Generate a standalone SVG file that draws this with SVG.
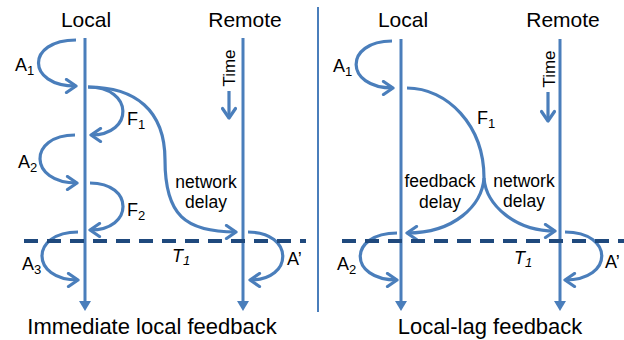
<svg xmlns="http://www.w3.org/2000/svg" width="624" height="340" viewBox="0 0 624 340">
<style>
text{font-family:"Liberation Sans",Arial,sans-serif;fill:#000}
.hd{font-size:21px;text-anchor:middle}
.cap{font-size:22px;text-anchor:middle}
.lb{font-size:18px}
.sub{font-size:13px}
.dl{font-size:17.5px;text-anchor:middle}
.tl{fill:none;stroke:#4A7EBB;stroke-width:3;marker-end:url(#tri)}
.cv{fill:none;stroke:#4A7EBB;stroke-width:3.2;marker-end:url(#open)}
.cvn{fill:none;stroke:#4A7EBB;stroke-width:3.2}
.dash{fill:none;stroke:#1F497D;stroke-width:4;stroke-dasharray:14 9}
</style>
<defs>
<marker id="open" viewBox="0 0 16 16" refX="12" refY="8" markerWidth="16" markerHeight="16" markerUnits="userSpaceOnUse" orient="auto"><path d="M2.5,1.5 L12,8 L2.5,14.5" fill="none" stroke="#4A7EBB" stroke-width="3.2" stroke-linejoin="round" stroke-linecap="round"/></marker>
<marker id="tri" viewBox="0 0 10 12" refX="1" refY="6" markerWidth="10" markerHeight="12" markerUnits="userSpaceOnUse" orient="auto"><path d="M0,0 L10,6 L0,12 z" fill="#4A7EBB"/></marker>
</defs>

<g id="divider"><line x1="318" y1="7" x2="318" y2="312" stroke="#4A7EBB" stroke-width="2"/></g>

<!-- Left panel -->
<g id="left-local"><text class="hd" x="86" y="27">Local</text><path class="tl" d="M85,38 V302"/></g>
<g id="left-remote"><text class="hd" x="245" y="27">Remote</text><path class="tl" d="M243,38 V302"/>
<text transform="translate(235,68) rotate(-90)" text-anchor="middle" style="font-size:17px">Time</text>
<path class="cv" d="M229,91 V118"/></g>

<g id="left-connectors">
<path class="cv" d="M76,40 C26,40 26,86 76,86"/>
<path class="cv" d="M88,87 C134,87 134,135 91,135"/>
<path class="cv" d="M88,87 C135,87 165,110 165,160 C165,215 185,232 236,232"/>
<path class="cv" d="M75,135 C28,135 28,183 77,183"/>
<path class="cv" d="M90,183 C134,183 134,230 90,230"/>
<path class="cv" d="M78,232 C30,232 30,280 78,280"/>
<path class="cv" d="M248,232 C294,232 294,280 250,280"/>
</g>
<g id="left-dash"><path class="dash" d="M24,241 H306"/></g>
<g id="left-labels">
<text class="lb" x="15" y="71">A<tspan class="sub" dy="4">1</tspan></text>
<text class="lb" x="127" y="125">F<tspan class="sub" dy="4">1</tspan></text>
<text class="lb" x="18" y="168">A<tspan class="sub" dy="4">2</tspan></text>
<text class="lb" x="127" y="216">F<tspan class="sub" dy="4">2</tspan></text>
<text class="lb" x="22" y="270">A<tspan class="sub" dy="4">3</tspan></text>
<text class="lb" x="172" y="262" font-style="italic">T<tspan class="sub" dy="3">1</tspan></text>
<text class="lb" x="287" y="265">A’</text>
<text class="dl" x="206" y="188">network</text>
<text class="dl" x="206" y="208">delay</text>
<text class="cap" x="152" y="334">Immediate local feedback</text>
</g>

<!-- Right panel -->
<g id="right-local"><text class="hd" x="403" y="27">Local</text><path class="tl" d="M401,39 V302"/></g>
<g id="right-remote"><text class="hd" x="563" y="27">Remote</text><path class="tl" d="M560,39 V302"/>
<text transform="translate(555,69) rotate(-90)" text-anchor="middle" style="font-size:17px">Time</text>
<path class="cv" d="M548,92 V121"/></g>

<g id="right-connectors">
<path class="cv" d="M392,41 C344,41 344,88 393,88"/>
<path class="cvn" d="M407,88 C447,88 484,125 484,178"/>
<path class="cv" d="M484,178 C482,205 455,233 407,233"/>
<path class="cv" d="M484,178 C486,205 515,231 555,231"/>
<path class="cv" d="M397,233 C348,233 348,280 397,280"/>
<path class="cv" d="M565,232 C614,232 614,280 565,280"/>
</g>
<g id="right-dash"><path class="dash" d="M342,241 H624"/></g>
<g id="right-labels">
<text class="lb" x="333" y="72">A<tspan class="sub" dy="4">1</tspan></text>
<text class="lb" x="477" y="124">F<tspan class="sub" dy="4">1</tspan></text>
<text class="lb" x="337" y="270">A<tspan class="sub" dy="4">2</tspan></text>
<text class="lb" x="514" y="264" font-style="italic">T<tspan class="sub" dy="3">1</tspan></text>
<text class="lb" x="605" y="268">A’</text>
<text class="dl" x="440" y="187">feedback</text>
<text class="dl" x="440" y="208">delay</text>
<text class="dl" x="524" y="187">network</text>
<text class="dl" x="524" y="207">delay</text>
<text class="cap" x="490" y="334">Local-lag feedback</text>
</g>
</svg>
